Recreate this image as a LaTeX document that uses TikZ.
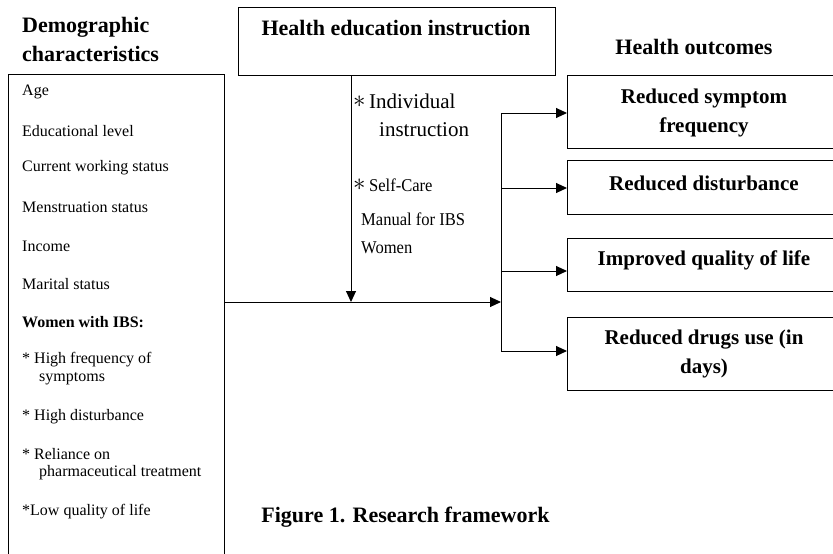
\documentclass[tikz,border=0pt]{standalone}
\usepackage{fontspec}
\setmainfont{Liberation Serif}
\newfontfamily\condfont{Liberation Serif}[FakeStretch=0.92]
\usetikzlibrary{arrows.meta}
\newcommand{\bigstar}{\raisebox{0.5pt}{\fontsize{32}{32}\selectfont$\ast$}}
\begin{document}
\begin{tikzpicture}[x=1pt,y=-1pt,
  boxst/.style={draw, line width=1pt, inner sep=0pt},
  lst/.style={anchor=west, inner sep=0pt, font=\fontsize{16}{19}\selectfont},
  lstb/.style={lst, font=\fontsize{16}{19}\selectfont\bfseries},
  hd/.style={inner sep=0pt, font=\fontsize{22}{29}\selectfont\bfseries},
  outt/.style={inner sep=0pt, align=center, font=\fontsize{21}{29}\selectfont\bfseries},
  mid/.style={anchor=west, inner sep=0pt, font=\fontsize{21}{25}\selectfont},
  midc/.style={anchor=west, inner sep=0pt, font=\fontsize{18}{22}\selectfont\condfont},
  arr/.style={line width=1pt, -{Triangle[length=11pt,width=10pt]}},
  ln/.style={line width=1pt}]
\clip (0,0) rectangle (833,554);
\fill[white] (0,0) rectangle (833,554);

% left box
\node[boxst, minimum width=216pt, minimum height=490pt, anchor=north west] (demo) at (8,74) {};
\node[hd, anchor=west, align=left] (demoh) at (22,39.5) {Demographic\\characteristics};
\node[lst] (l1) at (22,92) {Age};
\node[lst] (l2) at (22,131) {Educational level};
\node[lst] (l3) at (22,168) {Current working status};
\node[lst] (l4) at (22,207) {Menstruation status};
\node[lst] (l5) at (22,246) {Income};
\node[lst] (l6) at (22,284) {Marital status};
\node[lstb] (l7) at (22,322) {Women with IBS:};
\node[lst] (l8) at (22,360) {* High frequency of};
\node[lst] (l8b) at (39,379) {symptoms};
\node[lst] (l9) at (22,417) {* High disturbance};
\node[lst] (l10) at (22,454) {* Reliance on};
\node[lst] (l10b) at (39,473) {pharmaceutical treatment};
\node[lst] (l11) at (22,512) {*Low quality of life};

% health education box
\node[boxst, minimum width=317pt, minimum height=68pt, anchor=north west] (edu) at (238,7) {};
\node[hd] (eduh) at (396,28) {Health education instruction};

% middle labels
\node[mid] (m1) at (353,101) {\bigstar\,Individual};
\node[mid] (m2) at (379,130) {instruction};
\node[mid] (m3) at (353,185) {\bigstar\,{\condfont\fontsize{18}{22}\selectfont Self-Care}};
\node[midc] (m4) at (361,219) {Manual for IBS};
\node[midc] (m5) at (361,248) {Women};

% outcomes
\node[hd] (outh) at (694,47) {Health outcomes};
\node[boxst, minimum width=274pt, minimum height=73pt, anchor=north west] (o1) at (567,75) {};
\node[boxst, minimum width=274pt, minimum height=54pt, anchor=north west] (o2) at (567,160) {};
\node[boxst, minimum width=274pt, minimum height=53pt, anchor=north west] (o3) at (567,238) {};
\node[boxst, minimum width=274pt, minimum height=73pt, anchor=north west] (o4) at (567,317) {};
\node[outt] (o1t) at (704,112.5) {Reduced symptom\\frequency};
\node[outt] (o2t) at (704,183) {Reduced disturbance};
\node[outt] (o3t) at (704,260) {Improved quality of life};
\node[outt] (o4t) at (704,354) {Reduced drugs use (in\\days)};

% caption
\node[hd] (cap) at (405.5,517) {Figure 1. Research framework};

% connectors
\coordinate (j) at (351,302);
\coordinate (t) at (501,302);
\coordinate (t1) at (501,113);
\coordinate (t2) at (501,188);
\coordinate (t3) at (501,271);
\coordinate (t4) at (501,351);
\draw[arr] (edu.south -| j) -- (j);
\draw[arr] (demo.east |- j) -- (t);
\draw[ln] (t1) -- (t4);
\draw[arr] (t1) -- (o1.west |- t1);
\draw[arr] (t2) -- (o2.west |- t2);
\draw[arr] (t3) -- (o3.west |- t3);
\draw[arr] (t4) -- (o4.west |- t4);
\end{tikzpicture}
\end{document}
